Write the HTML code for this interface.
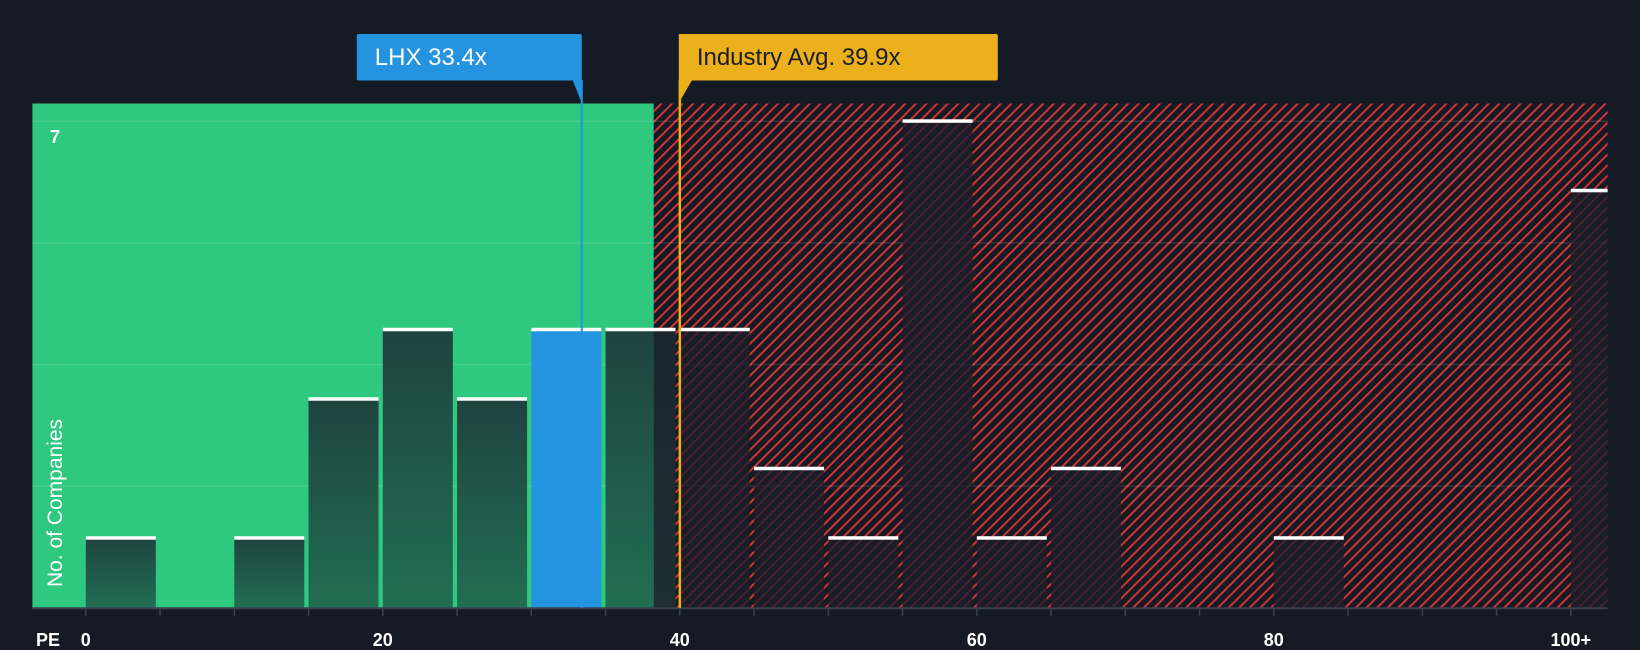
<!DOCTYPE html>
<html><head><meta charset="utf-8"><style>
html,body{margin:0;padding:0;background:#151b24;}
svg{display:block;font-family:"Liberation Sans",sans-serif;}
</style></head><body>
<svg id="chart" width="1640" height="650" viewBox="0 0 1640 650">
<defs>
<pattern id="hatch" patternUnits="userSpaceOnUse" width="7.5" height="7.5" patternTransform="rotate(45)">
<rect width="7.5" height="7.5" fill="#151a23"/>
<rect x="0" y="0" width="1.9" height="7.5" fill="#d5343c"/>
</pattern>
<linearGradient id="barG" x1="0" y1="0" x2="0" y2="1">
<stop offset="0" stop-color="#1f4340"/><stop offset="1" stop-color="#216e52"/>
</linearGradient>
</defs>
<g id="plot"></g>
</svg>
<script>
const binStarts=[0,5,10,15,20,25,30,35,40,45,50,55,60,65,70,75,80,85,90,95,100];
const counts=[1,0,1,3,4,3,4,4,4,2,1,7,1,2,0,0,1,0,0,0,6];
const xTicks=[0,20,40,60,80,100];
const xTickLabels=["0","20","40","60","80","100+"];
const companyPE=33.4;
const industryPE=39.9;
const fairBoundary=38.25;
const yMax=7;

const NS="http://www.w3.org/2000/svg";
const L=32.4,R=1607.6,T=103.5,B=607.7;
const x=v=>85.8+v*14.85;
const y=v=>B-v*(B-121.3)/yMax;
const g=document.getElementById('plot');
function mk(tag,attrs,parent){const e=document.createElementNS(NS,tag);for(const k in attrs)e.setAttribute(k,attrs[k]);(parent||g).appendChild(e);return e;}

const gb=x(fairBoundary);
const green=mk('rect',{x:L,y:T,width:gb-L,height:B-T,fill:'#2ec87f'});


const red=mk('rect',{x:gb,y:T,width:R-gb,height:B-T,fill:'url(#hatch)'});



[1.75,3.5,5.25,7].forEach(v=>{
 const ln=mk('line',{x1:L,x2:R,y1:y(v),y2:y(v),stroke:'rgba(255,255,255,0.12)','stroke-width':1.5});
 
 
});

binStarts.forEach((s,i)=>{
 const c=counts[i]; if(!c)return;
 const x0=x(s); let w=70; if(x0+w>R)w=R-x0;
 const inBlue=companyPE>=s&&companyPE<s+5;
 const inRed=x0>=gb-1;
 let fill=inBlue?'#2494e0':(inRed?'rgba(28,30,42,0.78)':'url(#barG)');
 const b=mk('rect',{x:x0,y:y(c),width:w,height:B-y(c),fill:fill});
 
 
 if(!inBlue&&!inRed&&x0+w>gb){
  const p=mk('rect',{x:gb,y:y(c),width:x0+w-gb,height:B-y(c),fill:'rgba(28,30,42,0.78)'});
  
  
 }
 const cap=mk('rect',{x:x0,y:y(c)-2,width:w,height:3.5,fill:'#ffffff'});
 
 
});

const ax=mk('line',{x1:L,x2:R,y1:B+0.5,y2:B+0.5,stroke:'#3a4050','stroke-width':2});


binStarts.forEach(s=>{
 const t=mk('line',{x1:x(s),x2:x(s),y1:B,y2:B+8,stroke:'#3a4050','stroke-width':1.5});
 
 
});
xTicks.forEach((v,i)=>{
 const t=mk('text',{x:x(v),y:646,'text-anchor':'middle',fill:'#ffffff','font-size':18,'font-weight':'bold'});
 t.textContent=xTickLabels[i];
 
 
});
const pe=mk('text',{x:36,y:646,fill:'#ffffff','font-size':18,'font-weight':'bold'});
pe.textContent='PE';


const seven=mk('text',{x:50,y:143,fill:'#ffffff','font-size':18,'font-weight':'bold'});
seven.textContent='7';


const yt=mk('text',{x:0,y:0,fill:'#ffffff','font-size':21,transform:'translate(62,503) rotate(-90)','text-anchor':'middle'});
yt.textContent='No. of Companies';



// LHX marker
const cx=x(companyPE);
const cl=mk('line',{x1:cx,x2:cx,y1:80,y2:B,stroke:'#2494e0','stroke-width':2});


const cbox=mk('path',{d:`M${cx-223},34 h221 a2,2 0 0 1 2,2 V103 L${cx-9},80.5 H${cx-223} a2,2 0 0 1 -2,-2 V36 a2,2 0 0 1 2,-2 Z`,fill:'#2494e0'});


const ct=mk('text',{x:cx-207,y:65,fill:'#ffffff','font-size':24,'font-family':'"Liberation Sans Narrow","Liberation Sans",sans-serif'});
ct.textContent='LHX 33.4x';



// Industry marker
const ix=x(industryPE)+1.5;
const il=mk('line',{x1:ix,x2:ix,y1:80,y2:B,stroke:'#ecb01c','stroke-width':2.5});


const ibox=mk('path',{d:`M${ix-1},34 h317 a2,2 0 0 1 2,2 V78.5 a2,2 0 0 1 -2,2 H${ix+12} L${ix-1},103 Z`,fill:'#ecb01c'});


const itx=mk('text',{x:ix+17,y:65,fill:'#1a1e26','font-size':24,'font-family':'"Liberation Sans Narrow","Liberation Sans",sans-serif'});
itx.textContent='Industry Avg. 39.9x';


</script>
</body></html>
